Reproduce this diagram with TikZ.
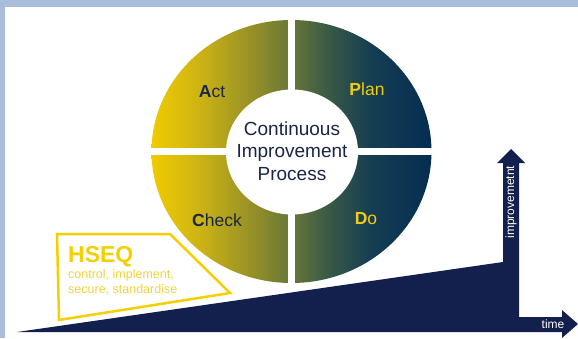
\documentclass[tikz,border=0pt]{standalone}
\usepackage{fontspec}
\setmainfont{Liberation Sans}
\definecolor{frameblue}{RGB}{169,188,218}
\definecolor{navy}{RGB}{19,31,77}
\definecolor{txtnavy}{RGB}{27,37,72}
\definecolor{cA}{RGB}{240,203,0}
\definecolor{cB}{RGB}{205,180,20}
\definecolor{cC}{RGB}{140,138,42}
\definecolor{cD}{RGB}{104,118,56}
\definecolor{cE}{RGB}{55,88,70}
\definecolor{cF}{RGB}{22,62,82}
\definecolor{cG}{RGB}{5,45,82}
\definecolor{hseq}{RGB}{245,208,0}
\definecolor{hseqlight}{RGB}{240,212,60}
\definecolor{lblyellow}{RGB}{240,205,20}
\pgfdeclarehorizontalshading{cycshade}{100bp}{color(0bp)=(cA); color(25bp)=(cA); color(33.5bp)=(cB); color(44.5bp)=(cC); color(50bp)=(cD); color(57bp)=(cE); color(64bp)=(cF); color(75bp)=(cG); color(100bp)=(cG)}
\tikzset{
  lbl/.style={font=\fontsize{17.5}{20}\selectfont, inner sep=0pt},
  smalltxt/.style={anchor=base west, inner sep=0pt, text=hseqlight, font=\fontsize{12.5}{15}\selectfont},
  axistxt/.style={text=white, inner sep=0pt, font=\fontsize{12}{14}\selectfont}
}
\begin{document}
\begin{tikzpicture}[x=1pt,y=-1pt]
\useasboundingbox (0,0) rectangle (578,338);
\fill[white] (0,0) rectangle (578,338);
\fill[frameblue] (0,0) rectangle (578,7);
\fill[frameblue] (0,0) rectangle (5,338);

% cycle
\shade[shading=cycshade] (291.5,151.5) ellipse (140 and 131.5);
\fill[white] (288,8) rectangle (295,295);
\fill[white] (145,148) rectangle (440,155);
\fill[white] (292,152) ellipse (66 and 62.5);

% ramp with axes
\fill[navy] (17,332) -- (503,262) -- (503,163) -- (497,163) -- (511,149) -- (525,163) -- (519,163)
  -- (519,317) -- (562,317) -- (562,310) -- (578,324) -- (562,338) -- (562,332) -- cycle;

% HSEQ box
\draw[hseq, line width=2.5, line join=miter] (57,234) -- (170,234) -- (230,293) -- (59,320) -- cycle;

% texts
\node[font=\fontsize{19}{22.5}\selectfont, text=txtnavy, align=center, inner sep=0pt] (cip) at (292,151) {Continuous\\Improvement\\Process};
\node[lbl, text=txtnavy] (act) at (212,92) {\textbf{A}ct};
\node[lbl, text=lblyellow] (plan) at (367,89) {\textbf{P}lan};
\node[lbl, text=txtnavy] (check) at (217,220) {\textbf{C}heck};
\node[lbl, text=lblyellow] (do) at (366,219) {\textbf{D}o};

\node[anchor=base west, inner sep=0pt, text=hseq, font=\bfseries\fontsize{23}{25}\selectfont] (hseqt) at (68,262) {HSEQ};
\node[smalltxt] (sub1) at (68,278) {control, implement,};
\node[smalltxt] (sub2) at (68,293) {secure, standardise};

\node[axistxt, rotate=90] (impr) at (511,202) {improvemetnt};
\node[axistxt] (time) at (553,324) {time};
\end{tikzpicture}
\end{document}
